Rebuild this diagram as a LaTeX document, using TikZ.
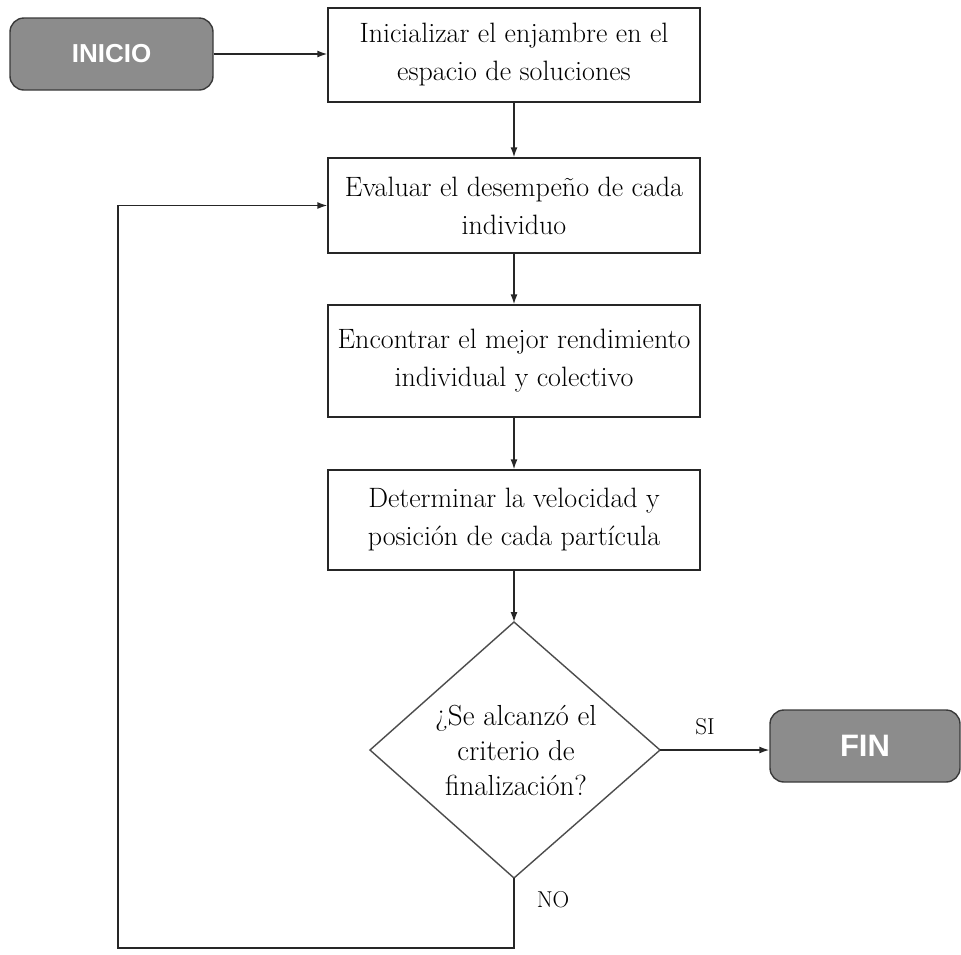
\documentclass[tikz,border=0pt]{standalone}
\usepackage{fontspec}
\newfontfamily\arialfont{Liberation Sans}
\usetikzlibrary{shapes.geometric,arrows.meta}
\definecolor{termfill}{HTML}{8C8C8C}
\definecolor{termdraw}{HTML}{3A3A3A}
\tikzset{
  procbox/.style={draw=black!85, line width=1.4pt, fill=white, minimum width=372pt, align=center,
    font=\fontsize{28}{38}\selectfont, inner sep=0pt},
  termbox/.style={draw=termdraw, line width=1.4pt, fill=termfill, rounded corners=14pt,
    text=white, font=\arialfont\bfseries\fontsize{26}{30}\selectfont},
  decbox/.style={draw=black!70, line width=1.4pt},
  conn/.style={draw=black!85, line width=1.4pt, -{Latex[length=10pt,width=7pt]}},
  lbl/.style={font=\fontsize{23}{26}\selectfont}
}
\begin{document}
\begin{tikzpicture}[x=1pt,y=-1pt]
\useasboundingbox (0,0) rectangle (961,954);
\node[termbox, minimum width=203pt, minimum height=72pt] (inicio) at (111.5,54) {INICIO};
\node[procbox, minimum height=94pt] (b1) at (514,55) {Inicializar el enjambre en el\\espacio de soluciones};
\node[procbox, minimum height=95pt] (b2) at (514,205.5) {Evaluar el desempeño de cada\\individuo};
\node[procbox, minimum height=112pt] (b3) at (514,361) {Encontrar el mejor rendimiento\\individual y colectivo};
\node[procbox, minimum height=100pt] (b4) at (514,520) {Determinar la velocidad y\\posición de cada partícula};
\draw[decbox] (514,622) -- (660,750) -- (514,878) -- (370,750) -- cycle;
\node[align=center, font=\fontsize{29}{35}\selectfont] (dec) at (516,750) {¿Se alcanzó el\\criterio de\\finalización?};
\coordinate (dtop) at (514,622);
\coordinate (dright) at (660,750);
\coordinate (dbot) at (514,878);
\node[termbox, minimum width=190pt, minimum height=72pt, font=\arialfont\bfseries\fontsize{31}{34}\selectfont] (fin) at (865,746) {FIN};
\coordinate (c1) at (514,948);
\coordinate (c2) at (118,948);
\coordinate (c3) at (118,205.5);
\draw[conn] (inicio.east) -- (inicio.east -| b1.west);
\draw[conn] (b1) -- (b2);
\draw[conn] (b2) -- (b3);
\draw[conn] (b3) -- (b4);
\draw[conn] (b4.south) -- (dtop);
\draw[conn] (dright) -- (fin.west |- dright);
\draw[conn] (dbot) -- (c1) -- (c2) -- (c3) -- (b2.west);
\node[lbl] (si) at (705,727) {SI};
\node[lbl] (no) at (553,900) {NO};
\end{tikzpicture}
\end{document}
